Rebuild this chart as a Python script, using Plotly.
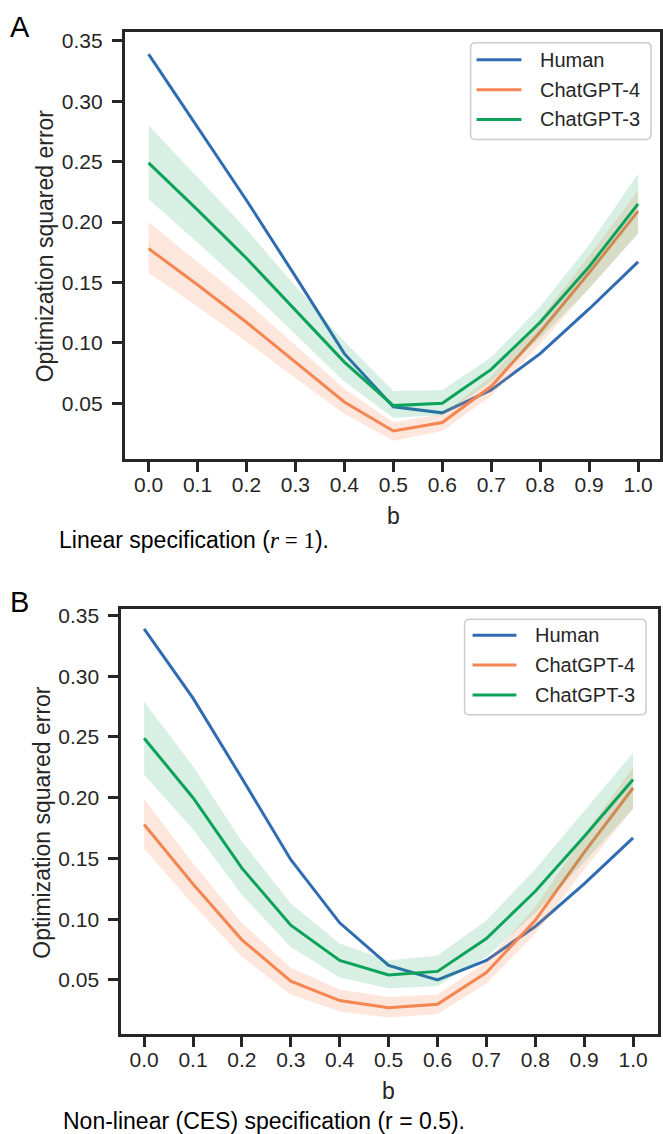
import re
import plotly.graph_objects as go

W, H = 663, 1134

b_vals = [0.0, 0.1, 0.2, 0.3, 0.4, 0.5, 0.6, 0.7, 0.8, 0.9, 1.0]
tick_labels_x = ["0.0", "0.1", "0.2", "0.3", "0.4", "0.5", "0.6", "0.7", "0.8", "0.9", "1.0"]
y_tickvals = [0.05, 0.10, 0.15, 0.20, 0.25, 0.30, 0.35]
y_ticktext = ["0.05", "0.10", "0.15", "0.20", "0.25", "0.30", "0.35"]
series_names = ["Human", "ChatGPT-4", "ChatGPT-3"]

# Panel A: linear specification
human_A = [0.339, 0.279, 0.218, 0.155, 0.091, 0.047, 0.042, 0.061, 0.091, 0.128, 0.167]
gpt4_A = [0.178, 0.148, 0.117, 0.084, 0.051, 0.027, 0.034, 0.064, 0.109, 0.158, 0.209]
gpt4_A_lo = [0.158, 0.130, 0.101, 0.071, 0.041, 0.019, 0.027, 0.056, 0.099, 0.145, 0.191]
gpt4_A_hi = [0.200, 0.167, 0.134, 0.098, 0.062, 0.034, 0.041, 0.072, 0.120, 0.172, 0.226]
gpt3_A = [0.249, 0.210, 0.170, 0.127, 0.084, 0.048, 0.050, 0.078, 0.117, 0.163, 0.215]
gpt3_A_lo = [0.219, 0.183, 0.146, 0.107, 0.068, 0.038, 0.040, 0.068, 0.104, 0.145, 0.190]
gpt3_A_hi = [0.280, 0.237, 0.194, 0.147, 0.101, 0.060, 0.061, 0.088, 0.130, 0.181, 0.240]

# Panel B: non-linear (CES) specification
human_B = [0.339, 0.282, 0.216, 0.149, 0.097, 0.062, 0.050, 0.066, 0.094, 0.129, 0.167]
gpt4_B = [0.178, 0.129, 0.083, 0.049, 0.033, 0.027, 0.030, 0.056, 0.099, 0.155, 0.208]
gpt4_B_lo = [0.158, 0.112, 0.069, 0.038, 0.024, 0.019, 0.022, 0.047, 0.088, 0.141, 0.191]
gpt4_B_hi = [0.199, 0.146, 0.097, 0.060, 0.042, 0.036, 0.038, 0.065, 0.110, 0.169, 0.225]
gpt3_B = [0.249, 0.200, 0.142, 0.095, 0.066, 0.054, 0.057, 0.084, 0.123, 0.168, 0.215]
gpt3_B_lo = [0.219, 0.174, 0.120, 0.077, 0.052, 0.043, 0.045, 0.069, 0.105, 0.147, 0.191]
gpt3_B_hi = [0.279, 0.226, 0.164, 0.113, 0.080, 0.066, 0.070, 0.099, 0.141, 0.189, 0.237]

captions = ["Linear specification (<span style=\"font-family:'Liberation Serif'\"><i>r</i> = 1</span>).",
            "Non-linear (CES) specification (r = 0.5)."]
panel_letters = ["A", "B"]
y_title = "Optimization squared error"
x_title = "b"

C_HUMAN = "rgb(47,108,178)"
C_GPT4 = "rgb(245,133,82)"
C_GPT3 = "rgb(13,163,90)"
F_GPT4 = "rgba(245,133,82,0.2)"
F_GPT3 = "rgba(13,163,90,0.16)"
TXT = "#262626"
FONT = "Liberation Sans, Arial, sans-serif"

fig = go.Figure()


def add_panel(idx, human, g4, g4lo, g4hi, g3, g3lo, g3hi):
    xa = "x" if idx == 1 else "x2"
    ya = "y" if idx == 1 else "y2"
    lw = 3
    fig.add_trace(go.Scatter(x=b_vals, y=human, mode="lines", line=dict(color=C_HUMAN, width=lw),
                             xaxis=xa, yaxis=ya, showlegend=False, name=series_names[0]))
    fig.add_trace(go.Scatter(x=b_vals, y=g4, mode="lines", line=dict(color=C_GPT4, width=lw),
                             xaxis=xa, yaxis=ya, showlegend=False, name=series_names[1]))
    fig.add_trace(go.Scatter(x=b_vals, y=g4lo, mode="lines", line=dict(width=0, color=F_GPT4),
                             xaxis=xa, yaxis=ya, showlegend=False, hoverinfo="skip"))
    fig.add_trace(go.Scatter(x=b_vals, y=g4hi, mode="lines", line=dict(width=0, color=F_GPT4),
                             fill="tonexty", fillcolor=F_GPT4,
                             xaxis=xa, yaxis=ya, showlegend=False, hoverinfo="skip"))
    fig.add_trace(go.Scatter(x=b_vals, y=g3, mode="lines", line=dict(color=C_GPT3, width=lw),
                             xaxis=xa, yaxis=ya, showlegend=False, name=series_names[2]))
    fig.add_trace(go.Scatter(x=b_vals, y=g3lo, mode="lines", line=dict(width=0, color=F_GPT3),
                             xaxis=xa, yaxis=ya, showlegend=False, hoverinfo="skip"))
    fig.add_trace(go.Scatter(x=b_vals, y=g3hi, mode="lines", line=dict(width=0, color=F_GPT3),
                             fill="tonexty", fillcolor=F_GPT3,
                             xaxis=xa, yaxis=ya, showlegend=False, hoverinfo="skip"))


add_panel(1, human_A, gpt4_A, gpt4_A_lo, gpt4_A_hi, gpt3_A, gpt3_A_lo, gpt3_A_hi)
add_panel(2, human_B, gpt4_B, gpt4_B_lo, gpt4_B_hi, gpt3_B, gpt3_B_lo, gpt3_B_hi)

common_axis = dict(showline=True, mirror=True, linecolor=TXT, linewidth=2.5, showgrid=False,
                   zeroline=False, ticks="outside", ticklen=10, tickwidth=2.5, tickcolor=TXT,
                   tickfont=dict(family=FONT, size=21, color=TXT))
x_axis = dict(common_axis, ticklabelstandoff=-5)
y_axis = dict(common_axis, ticklabelstandoff=5)

fig.update_layout(
    width=W, height=H, margin=dict(l=0, r=0, t=0, b=0),
    paper_bgcolor="white", plot_bgcolor="white", showlegend=False,
    xaxis=dict(domain=[125 / W, 662 / W], range=[-0.0489, 1.0448], anchor="y",
               tickvals=b_vals, ticktext=tick_labels_x, **x_axis),
    yaxis=dict(domain=[1 - 456 / H, 1 - 27 / H], range=[0.0038, 0.3574], anchor="x",
               tickvals=y_tickvals, ticktext=y_ticktext, **y_axis),
    xaxis2=dict(domain=[121.5 / W, 660 / W], range=[-0.047, 1.051], anchor="y2",
                tickvals=b_vals, ticktext=tick_labels_x, **x_axis),
    yaxis2=dict(domain=[1 - 1034 / H, 1 - 607 / H], range=[0.0051, 0.3551], anchor="x2",
                tickvals=y_tickvals, ticktext=y_ticktext, **y_axis),
)


def px(x):
    return x / W


def py(y):
    return 1 - y / H


annotations = []
shapes = []

# panel letters
for letter, (lx, ly) in zip(panel_letters, [(20, 22), (20, 600)]):
    annotations.append(dict(text=letter, x=px(lx), y=py(ly), xref="paper", yref="paper",
                            showarrow=False, xanchor="center", yanchor="middle",
                            font=dict(family=FONT, size=29, color="black")))

# y titles
for (cx, cy) in [(46, (27 + 456) / 2), (42, (607 + 1034) / 2)]:
    annotations.append(dict(text=y_title, x=px(cx), y=py(cy), xref="paper", yref="paper",
                            showarrow=False, textangle=-90, xanchor="center", yanchor="middle",
                            font=dict(family=FONT, size=23, color=TXT)))

# x titles
for (cx, cy) in [(395, 513), (390, 1091)]:
    annotations.append(dict(text=x_title, x=px(cx), y=py(cy), xref="paper", yref="paper",
                            showarrow=False, xanchor="center", yanchor="middle",
                            font=dict(family=FONT, size=23, color=TXT)))

# captions
for cap, (cx, cy) in zip(captions, [(57, 537), (61, 1121)]):
    annotations.append(dict(text=cap, x=px(cx), y=py(cy), xref="paper", yref="paper",
                            showarrow=False, xanchor="left", yanchor="middle",
                            font=dict(family=FONT, size=23, color="black")))

# legends (drawn manually to match box geometry)
legend_boxes = [dict(l=472, t=38, r=653, b=135, rows=[55, 85, 115], lx0=478, lx1=523, tx=540),
                dict(l=466, t=617, r=648, b=713, rows=[633, 663, 693], lx0=474, lx1=518, tx=535)]
colors = [C_HUMAN, C_GPT4, C_GPT3]


def conv(m):
    xx, yy = float(m.group(1)), float(m.group(2))
    return f"{px(xx):.5f},{py(yy):.5f}"


for lb in legend_boxes:
    rr = 5
    path = (f"M {lb['l'] + rr},{lb['t']} L {lb['r'] - rr},{lb['t']} Q {lb['r']},{lb['t']} {lb['r']},{lb['t'] + rr} "
            f"L {lb['r']},{lb['b'] - rr} Q {lb['r']},{lb['b']} {lb['r'] - rr},{lb['b']} "
            f"L {lb['l'] + rr},{lb['b']} Q {lb['l']},{lb['b']} {lb['l']},{lb['b'] - rr} "
            f"L {lb['l']},{lb['t'] + rr} Q {lb['l']},{lb['t']} {lb['l'] + rr},{lb['t']} Z")
    path_p = re.sub(r"([\d.]+),([\d.]+)", conv, path)
    shapes.append(dict(type="path", path=path_p, xref="paper", yref="paper",
                       line=dict(color="#cccccc", width=1.5), fillcolor="rgba(255,255,255,0.8)",
                       layer="above"))
    for name, col, ry in zip(series_names, colors, lb["rows"]):
        shapes.append(dict(type="line", xref="paper", yref="paper", x0=px(lb["lx0"]), x1=px(lb["lx1"]),
                           y0=py(ry), y1=py(ry), line=dict(color=col, width=3), layer="above"))
        annotations.append(dict(text=name, x=px(lb["tx"]), y=py(ry), xref="paper", yref="paper",
                                showarrow=False, xanchor="left", yanchor="middle",
                                font=dict(family=FONT, size=20, color=TXT)))

fig.update_layout(annotations=annotations, shapes=shapes)
fig.write_html("out.html", config={"displayModeBar": False},
               post_script="document.body.style.margin='0';document.body.style.overflow='hidden';")
